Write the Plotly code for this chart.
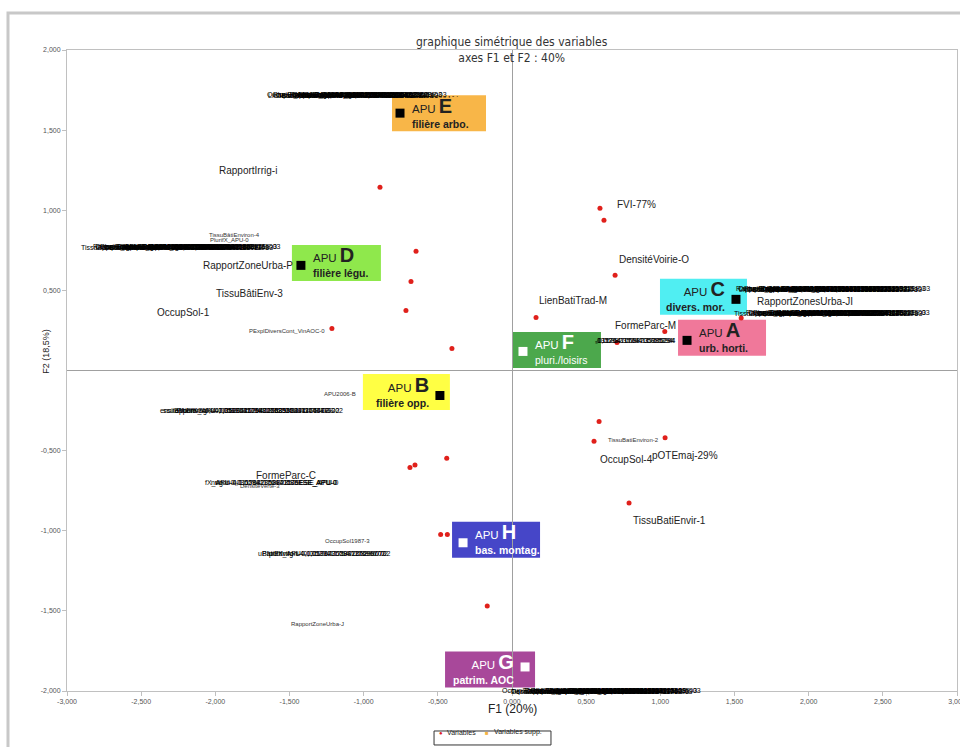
import plotly.graph_objects as go

# Variables actives (F1, F2)
var_x = [-0.890, -0.647, -0.681, -0.715, -1.214, -0.405, 0.593, 0.620, 0.695, 0.162, 1.030, 0.708,
         1.545, -0.688, -0.654, -0.440, -0.481, -0.436, -0.167, 0.587, 0.553, 1.032, 0.789]
var_y = [1.144, 0.744, 0.556, 0.375, 0.262, 0.137, 1.012, 0.937, 0.594, 0.331, 0.244, 0.175,
         0.327, -0.606, -0.589, -0.548, -1.023, -1.023, -1.470, -0.319, -0.442, -0.419, -0.827]

# Variables supplementaires (APU)
supp_letter = ["A", "B", "C", "D", "E", "F", "G", "H"]
supp_desc = ["urb. horti.", "filière opp.", "divers. mor.", "filière légu.",
             "filière arbo.", "pluri./loisirs", "patrim. AOC", "bas. montag."]
supp_x = [1.180, -0.486, 1.510, -1.423, -0.755, 0.074, 0.088, -0.330]
supp_y = [0.188, -0.156, 0.444, 0.656, 1.606, 0.119, -1.850, -1.075]

# etiquettes des variables
lab_main = ["RapportIrrig-i", "FVI-77%", "DensitéVoirie-O", "LienBatiTrad-M", "FormeParc-M",
            "RapportZonesUrba-JI", "RapportZoneUrba-P", "TissuBâtiEnv-3", "OccupSol-1",
            "FormeParc-C", "OccupSol-4", "pOTEmaj-29%", "TissuBatiEnvir-1"]
lab_main_x = [-1.780, 0.836, 0.958, 0.411, 0.897, 1.976, -1.780, -1.767, -2.212,
              -1.524, 0.775, 1.167, 1.059]
lab_main_y = [1.250, 1.037, 0.694, 0.437, 0.281, 0.431, 0.656, 0.481, 0.362,
              -0.656, -0.556, -0.531, -0.937]

lab_small = ["TissuBâtiEnviron-4", "PlurifX_APU-0", "PExplDiversCont_VinAOC-0", "APU2006-B",
             "OccupSol1987-3", "RapportZoneUrba-J", "TissuBatiEnviron-2", "DensitéVerte-3"]
lab_small_x = [-1.868, -1.902, -1.517, -1.160, -1.106, -1.308, 0.816, -1.700]
lab_small_y = [0.844, 0.812, 0.244, -0.144, -1.062, -1.581, -0.431, -0.720]

# etiquettes superposees (valeurs numeriques)
clutter_end_x = [-0.351, -1.544, -1.126, -1.160, -0.809, 2.832, 2.832, 1.113, 1.288]
clutter_y = [1.719, 0.769, -0.250, -0.700, -1.144, 0.506, 0.356, 0.188, -2.000]
clutter_tail = ["E-03 . . .", "76E-03", "35294117647E-02", "ESE_APU-0", "96702",
                "3321E-03", "2E-03", "5294", "E-03"]
clutter_body = ["PlurifX_APU-0,0117647058823529", "RapportIrrig-ii-0,0352941176470588",
                "TissuBâtiEnviron-4-1,05882352941176", "DensitéVoirie-3-0,0470588235294118",
                "OccupSol1987-3-0,0823529411764706", "LienBatiTrad-M-0,0588235294117647"]

xtick_vals = [-3, -2.5, -2, -1.5, -1, -0.5, 0, 0.5, 1, 1.5, 2, 2.5, 3]
xtick_text = ["-3,000", "-2,500", "-2,000", "-1,500", "-1,000", "-0,500", "0,000",
              "0,500", "1,000", "1,500", "2,000", "2,500", "3,000"]
ytick_vals = [-2, -1.5, -1, -0.5, 0.5, 1, 1.5, 2]
ytick_text = ["-2,000", "-1,500", "-1,000", "-0,500", "0,500", "1,000", "1,500", "2,000"]

legend_names = ["Variables", "Variables supp."]

# styles des boites APU
box_color = ["#f0789a", "#ffff44", "#50eef2", "#8fe84c", "#f8b648", "#4ca84c", "#a8489a", "#4646c8"]
txt_color = ["#222222", "#222222", "#222222", "#222222", "#222222", "white", "white", "white"]
sq_color = ["black", "black", "black", "black", "black", "white", "white", "white"]
box_dx = [35, -33.5, -32.5, 35.5, 39, 34, -35, 33]
box_dy = [-2.5, -3.5, -2.5, -2.5, 0, -1.5, 2.5, -3]
box_w = [88, 87, 87, 89, 94, 88, 90, 88]
text_side = ["left", "right", "right", "left", "left", "left", "right", "left"]
desc_bold = [True, True, True, True, True, False, True, True]

FONT = "Liberation Sans, Arial"

fig = go.Figure()

fig.add_trace(go.Scatter(x=var_x, y=var_y, mode="markers", name=legend_names[0],
                         marker=dict(color="#e0201b", size=5)))
fig.add_trace(go.Scatter(x=supp_x, y=supp_y, mode="markers", name=legend_names[1], hoverinfo="skip",
                         marker=dict(symbol="square", size=9, color=sq_color)))

shapes = []
annotations = []

# cadre exterieur
shapes.append(dict(type="rect", xref="paper", yref="paper", x0=-0.0663, x1=1.2, y0=-0.3, y1=1.0577,
                   line=dict(color="#c8c8c8", width=3), layer="below"))

for i in range(len(supp_x)):
    dx, dy, w = box_dx[i], box_dy[i], box_w[i]
    shapes.append(dict(type="rect", xref="x", yref="y", xsizemode="pixel", ysizemode="pixel",
                       xanchor=supp_x[i], yanchor=supp_y[i],
                       x0=dx - w / 2, x1=dx + w / 2, y0=-dy - 18, y1=-dy + 18,
                       fillcolor=box_color[i], line=dict(width=0), layer="below"))
    desc = "<b>%s</b>" % supp_desc[i] if desc_bold[i] else supp_desc[i]
    txt = ("APU <span style='font-size:20px'><b>%s</b></span><br><span style='font-size:10.5px'>%s</span>"
           % (supp_letter[i], desc))
    left = text_side[i] == "left"
    annotations.append(dict(x=supp_x[i], y=supp_y[i], xref="x", yref="y", text=txt,
                            showarrow=False, xanchor="left" if left else "right",
                            align="left" if left else "right", yanchor="middle",
                            xshift=10 if left else -9, yshift=-dy + 1,
                            font=dict(size=11.5, color=txt_color[i], family=FONT)))

for t, x, y in zip(lab_main, lab_main_x, lab_main_y):
    annotations.append(dict(x=x, y=y, text=t, showarrow=False,
                            font=dict(size=10, color="#222", family=FONT)))
for t, x, y in zip(lab_small, lab_small_x, lab_small_y):
    annotations.append(dict(x=x, y=y, text=t, showarrow=False,
                            font=dict(size=6, color="#333", family=FONT)))

# lignes d'etiquettes superposees
clutter_span = [190, 183, 170, 120, 127, 184, 180, 76, 181]
cw = 3.5
for r in range(len(clutter_y)):
    span = clutter_span[r]
    nchar = int(span / cw)
    strings = []
    for k in range(60):
        s = clutter_body[k % len(clutter_body)] + clutter_tail[r]
        strings.append(s[-nchar:] if len(s) > nchar else s)
    L = len(strings[0]) * cw
    n = max(3, int(round((span - L) / 4)) + 1)
    step = (span - L) / (n - 1)
    for k in range(n):
        annotations.append(dict(x=clutter_end_x[r], y=clutter_y[r], text=strings[k], showarrow=False,
                                xanchor="right", xshift=-k * step,
                                font=dict(size=7, color="black", family=FONT)))

# titres
annotations.append(dict(xref="paper", yref="paper", x=0.5, y=1.0273, showarrow=False,
                        text="graphique simétrique des variables<br>axes F1 et F2 : 40%",
                        font=dict(size=12, color="#333",
                                  family="Liberation Sans Narrow, DejaVu Sans Condensed, Arial")))
annotations.append(dict(xref="paper", yref="paper", x=0.5, y=-0.042, showarrow=False,
                        text="F1 (20%)", font=dict(size=12, color="#222", family=FONT)))
annotations.append(dict(xref="paper", yref="paper", x=-0.031, y=0.53, showarrow=False, textangle=-90,
                        text="F2 (18,5%)", font=dict(size=9, color="#222", family=FONT)))

# legende dessinee a la main (ne pousse pas les marges)
shapes.append(dict(type="rect", xref="paper", yref="paper", x0=0.4124, x1=0.5438, y0=-0.0842, y1=-0.0624,
                   line=dict(color="#333", width=1), fillcolor="white"))
leg_y = -0.0733
annotations.append(dict(xref="paper", yref="paper", x=0.4202, y=leg_y, showarrow=False, text="●",
                        font=dict(size=6, color="#e0201b", family=FONT)))
annotations.append(dict(xref="paper", yref="paper", x=0.4247, y=leg_y, showarrow=False, xanchor="left",
                        text=legend_names[0], font=dict(size=7, color="#222", family=FONT)))
annotations.append(dict(xref="paper", yref="paper", x=0.4719, y=leg_y, showarrow=False, text="■",
                        font=dict(size=6, color="#f5b342", family=FONT)))
annotations.append(dict(xref="paper", yref="paper", x=0.4775, y=leg_y, showarrow=False, xanchor="left",
                        text=legend_names[1], font=dict(size=7, color="#222", family=FONT)))

axis_common = dict(showgrid=False, zeroline=True, zerolinecolor="#a0a0a0", zerolinewidth=1,
                   showline=True, mirror=True, linecolor="#c0c0c0", linewidth=1, automargin=False,
                   ticks="outside", ticklen=4, tickcolor="#c0c0c0", ticklabeloverflow="allow",
                   tickfont=dict(size=7, color="#555", family=FONT))

fig.update_layout(
    width=960, height=747, autosize=False,
    margin=dict(l=67, r=3, t=50, b=56),
    paper_bgcolor="white", plot_bgcolor="white",
    xaxis=dict(range=[-3, 3], tickvals=xtick_vals, ticktext=xtick_text, **axis_common),
    yaxis=dict(range=[-2, 2], tickvals=ytick_vals, ticktext=ytick_text, **axis_common),
    shapes=shapes, annotations=annotations,
    showlegend=False,
)

# page sans marge ni barre de defilement
no_margin = ("document.body.style.margin='0';"
             "document.documentElement.style.overflow='hidden';"
             "document.body.style.overflow='hidden';")
fig.write_html("out.html", post_script=no_margin, config={"displayModeBar": False})
